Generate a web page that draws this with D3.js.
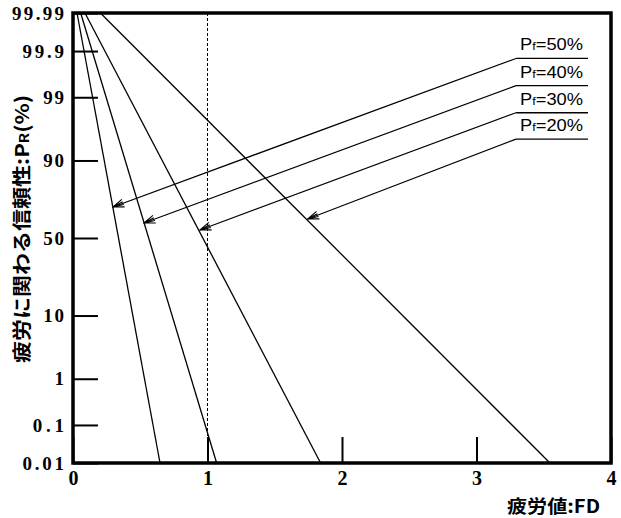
<!DOCTYPE html>
<html><head><meta charset="utf-8">
<script src="https://cdn.jsdelivr.net/npm/d3@7"></script>
<style>body{margin:0;background:#fff}svg{display:block}</style>
</head><body>
<svg id="c" width="621" height="518"></svg>
<script>
// ---- data ----
const lineTopFD    = [0.030, 0.057, 0.089, 0.204];   // FD where each line meets P_R = 99.99 %
const lineBottomFD = [0.647, 1.068, 1.841, 3.546];   // FD where each line meets P_R = 0.01 %
const lineTopPR = 99.99, lineBottomPR = 0.01;
const pfLabels = ["50%", "40%", "30%", "20%"];
const tipFD = [0.297, 0.528, 0.944, 1.745];          // arrow tips on the lines
const tipPR = [69.6, 59.8, 55.3, 62.3];
const leaderFD = 3.294;                               // start of the leader (left end of underline)
const leaderPR = [99.85, 99.41, 98.08, 94.9];
const underlineEndFD = 3.829;
const yTickValues = [99.99, 99.9, 99, 90, 50, 10, 1, 0.1, 0.01];
const yTickLabels = ["99.99", "99.9", "99", "90", "50", "10", "1", "0.1", "0.01"];
const xTickValues = [0, 1, 2, 3, 4];
const xTickLabels = ["0", "1", "2", "3", "4"];
const refFD = 1;

// inverse normal CDF (Acklam) for the probability axis
function probit(p) {
  const a=[-3.969683028665376e+01,2.209460984245205e+02,-2.759285104469687e+02,1.383577518672690e+02,-3.066479806614716e+01,2.506628277459239e+00];
  const b=[-5.447609879822406e+01,1.615858368580409e+02,-1.556989798598866e+02,6.680131188771972e+01,-1.328068155288572e+01];
  const c=[-7.784894002430293e-03,-3.223964580411365e-01,-2.400758277161838e+00,-2.549732539343734e+00,4.374664141464968e+00,2.938163982698783e+00];
  const d=[7.784695709041462e-03,3.224671290700398e-01,2.445134137142996e+00,3.754408661907416e+00];
  const pl=0.02425, ph=1-pl; let q,r;
  if (p<pl){q=Math.sqrt(-2*Math.log(p));return (((((c[0]*q+c[1])*q+c[2])*q+c[3])*q+c[4])*q+c[5])/((((d[0]*q+d[1])*q+d[2])*q+d[3])*q+1);}
  if (p<=ph){q=p-0.5;r=q*q;return (((((a[0]*r+a[1])*r+a[2])*r+a[3])*r+a[4])*r+a[5])*q/(((((b[0]*r+b[1])*r+b[2])*r+b[3])*r+b[4])*r+1);}
  q=Math.sqrt(-2*Math.log(1-p));return -(((((c[0]*q+c[1])*q+c[2])*q+c[3])*q+c[4])*q+c[5])/((((d[0]*q+d[1])*q+d[2])*q+d[3])*q+1);
}

const svg = d3.select("#c");
const x = d3.scaleLinear().domain([0, 4]).range([73, 611]);
const yz = d3.scaleLinear().domain([probit(0.0001), probit(0.9999)]).range([463, 13]);
const y = pr => yz(probit(pr / 100));

// dashed reference line
svg.append("line")
  .attr("x1", x(refFD)).attr("x2", x(refFD))
  .attr("y1", y(lineTopPR)).attr("y2", y(lineBottomPR))
  .attr("stroke", "#000").attr("stroke-width", 1).attr("stroke-dasharray", "3,2");

// axes
const yAxis = d3.axisLeft(yz)
  .tickValues(yTickValues.map(v => probit(v / 100)))
  .tickFormat((d, i) => yTickLabels[i])
  .tickSizeInner(-25).tickSizeOuter(0).tickPadding(9);
const gy = svg.append("g").attr("transform", `translate(${x(0)},0)`).call(yAxis);
gy.select(".domain").remove();
gy.selectAll(".tick line").attr("stroke", "#000").attr("stroke-width", 2);
gy.selectAll(".tick text")
  .attr("fill", "#000")
  .style("font-family", "'Liberation Serif', 'DejaVu Serif', serif")
  .style("font-size", "19px").style("font-weight", "bold")
  .each(function () {
    const t = d3.select(this).text();
    d3.select(this).attr("textLength", t.length * 10.4).attr("lengthAdjust", "spacing");
  });

const xAxis = d3.axisBottom(x)
  .tickValues(xTickValues)
  .tickFormat((d, i) => xTickLabels[i])
  .tickSizeInner(-26).tickSizeOuter(0).tickPadding(8);
const gx = svg.append("g").attr("transform", `translate(0,${y(lineBottomPR)})`).call(xAxis);
gx.select(".domain").remove();
gx.selectAll(".tick line").attr("stroke", "#000").attr("stroke-width", 2);
gx.selectAll(".tick text")
  .attr("fill", "#000")
  .style("font-family", "'Liberation Serif', 'DejaVu Serif', serif")
  .style("font-size", "20px").style("font-weight", "bold");

// frame
svg.append("rect")
  .attr("x", x(0)).attr("y", y(lineTopPR))
  .attr("width", x(4) - x(0)).attr("height", y(lineBottomPR) - y(lineTopPR))
  .attr("fill", "none").attr("stroke", "#000").attr("stroke-width", 3.5);

// data lines
const lines = lineTopFD.map((t, i) => [[t, lineTopPR], [lineBottomFD[i], lineBottomPR]]);
const lineGen = d3.line().x(d => x(d[0])).y(d => y(d[1]));
svg.append("g").selectAll("path").data(lines).join("path")
  .attr("d", lineGen).attr("fill", "none").attr("stroke", "#000").attr("stroke-width", 1.3);

// arrow marker (tip at the end of the leader, barbs trailing back)
svg.append("defs").append("marker")
  .attr("id", "arr").attr("viewBox", "-12 -6 13 12").attr("refX", 0).attr("refY", 0)
  .attr("markerWidth", 13).attr("markerHeight", 12).attr("markerUnits", "userSpaceOnUse")
  .attr("orient", "auto")
  .append("path").attr("d", "M-11,-4 L0,0 L-11,4 M-11,-1.5 L0,0 L-11,1.5")
  .attr("fill", "none").attr("stroke", "#000").attr("stroke-width", 1.1);

// annotations
const ann = svg.append("g");
pfLabels.forEach((lab, i) => {
  const sx = x(leaderFD), sy = y(leaderPR[i]);
  ann.append("line")
    .attr("x1", sx).attr("y1", sy).attr("x2", x(tipFD[i])).attr("y2", y(tipPR[i]))
    .attr("stroke", "#000").attr("stroke-width", 1.2).attr("marker-end", "url(#arr)");
  ann.append("line")
    .attr("x1", sx).attr("y1", sy).attr("x2", x(underlineEndFD)).attr("y2", sy)
    .attr("stroke", "#000").attr("stroke-width", 1.3);
  const t = ann.append("text")
    .attr("x", sx + 4).attr("y", sy - 8)
    .attr("textLength", 63).attr("lengthAdjust", "spacingAndGlyphs")
    .style("font-family", "'Liberation Sans', 'DejaVu Sans', sans-serif")
    .style("font-size", "16px").attr("fill", "#000");
  t.append("tspan").text("P");
  t.append("tspan").style("font-size", "11px").text("f");
  t.append("tspan").text("=" + lab);
});

// axis titles
svg.append("text")
  .attr("x", 507).attr("y", 513)
  .attr("textLength", 93).attr("lengthAdjust", "spacingAndGlyphs")
  .style("font-family", "'Noto Sans CJK JP', sans-serif")
  .style("font-size", "18px").style("font-weight", "bold").attr("fill", "#000")
  .text("疲労値:FD");

const yt = svg.append("text")
  .attr("transform", "translate(29,229) rotate(-90)")
  .attr("text-anchor", "middle")
  .attr("textLength", 268).attr("lengthAdjust", "spacingAndGlyphs")
  .style("font-family", "'Noto Sans CJK JP', sans-serif")
  .style("font-size", "19px").style("font-weight", "bold").attr("fill", "#000");
yt.append("tspan").text("疲労に関わる信頼性:P");
yt.append("tspan").style("font-size", "13px").text("R");
yt.append("tspan").text("(%)");
</script>
</body></html>
